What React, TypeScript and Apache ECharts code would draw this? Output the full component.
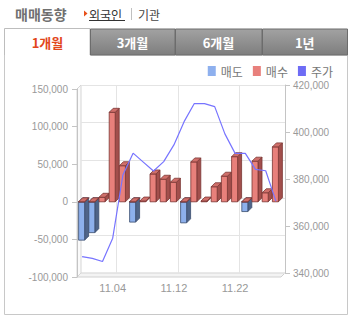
import React, { useEffect, useRef } from "react";
import * as echarts from "echarts";

const dates = ["10.30","10.31","11.01","11.04","11.05","11.06","11.07","11.08","11.11","11.12","11.13","11.14","11.15","11.18","11.20","11.22","11.25","11.26","11.27","11.28"];
const sellValues = [-51000,-41000,0,0,0,-27000,0,0,0,0,-28000,0,0,0,0,0,-13000,0,0,0];
const buyValues = [0,0,6000,119000,48000,0,1000,37000,30000,26000,0,53000,1000,20000,34000,60000,0,54000,12000,73000];
const priceValues = [347000,346200,344900,354800,381700,391000,387200,383400,387400,394500,404400,412100,412100,410800,399200,390900,390900,384100,383500,370600];
const labelIndices = [3, 9, 15];
const tabLabels = ["1개월","3개월","6개월","1년"];
const legendNames = ["매도","매수","주가"];

const KR = "'Noto Sans CJK KR', sans-serif";
const NUM = "'Liberation Sans', Arial, sans-serif";

const redC = { front: "#e8807b", side: "#a24f4c", top: "#cf6f6a", edge: "#7a3532" };
const blueC = { front: "#8db0ec", side: "#4f6488", top: "#7596cf", edge: "#3a4d6e" };
const lineColor = "#7774ff";

function bar3D(c: any, skipZero: boolean) {
  return (params: any, api: any) => {
    const idx = api.value(0);
    const v = api.value(1);
    if (skipZero && v === 0) return null;
    const p0 = api.coord([idx, 0]);
    const p1 = api.coord([idx, v]);
    const w = 6, d = 4;
    const x0 = p0[0] - 3.5;
    const yt = Math.min(p0[1], p1[1]);
    const yb = Math.max(p0[1], p1[1]);
    const st = (fill: string) => ({ fill, stroke: c.edge, lineWidth: 0.8 });
    return {
      type: "group",
      children: [
        { type: "polygon", shape: { points: [[x0 + w, yt], [x0 + w + d, yt - d], [x0 + w + d, yb - d], [x0 + w, yb]] }, style: st(c.side) },
        { type: "rect", shape: { x: x0, y: yt, width: w, height: yb - yt }, style: st(c.front) },
        { type: "polygon", shape: { points: [[x0, yt], [x0 + d, yt - d], [x0 + w + d, yt - d], [x0 + w, yt]] }, style: st(c.top) },
      ],
    };
  };
}

const fmt = (v: number) => v.toLocaleString("en-US");

function txt(text: string, x: number, y: number, font: string, fill: string, align = "left") {
  return {
    type: "text", x, y, z: 10,
    style: { text, font, fill, align, verticalAlign: "middle", textAlign: align, textVerticalAlign: "middle" },
  };
}

export default function App() {
  const ref = useRef<HTMLDivElement>(null);
  useEffect(() => {
    if (!ref.current) return;
    const chart = echarts.init(ref.current, undefined, { renderer: "svg" });
    const grayGrad = () => new echarts.graphic.LinearGradient(0, 0, 0, 1, [
      { offset: 0, color: "#a2a2a2" }, { offset: 1, color: "#7e7e7e" },
    ]);
    const tabX = [4.5, 90, 175, 262, 347.5];
    const graphic: any[] = [
      { type: "polyline", z: 1, shape: { points: [[90, 55], [347.5, 55], [347.5, 314.5], [4.5, 314.5], [4.5, 55]] }, style: { stroke: "#c8c8c8", fill: "none", lineWidth: 1 } },
      { type: "polyline", z: 1, shape: { points: [[4.5, 55], [4.5, 28.5], [90, 28.5], [90, 55]] }, style: { stroke: "#bdbdbd", fill: "#fff", lineWidth: 1 } },
      txt(tabLabels[0], 47.5, 42.5, `bold 13px ${KR}`, "#e2461b", "center"),
      txt("매매동향", 15, 13.5, `bold 14px ${KR}`, "#707070"),
      { type: "polygon", z: 10, shape: { points: [[84, 10.5], [87.5, 13.5], [84, 16.5]] }, style: { fill: "#e8501a" } },
      txt("외국인", 89, 14, `12px ${KR}`, "#333"),
      { type: "line", z: 10, shape: { x1: 89, y1: 20.5, x2: 125, y2: 20.5 }, style: { stroke: "#333", lineWidth: 1 } },
      { type: "line", z: 10, shape: { x1: 131.5, y1: 8, x2: 131.5, y2: 20 }, style: { stroke: "#c0c0c0", lineWidth: 1 } },
      txt("기관", 138, 14, `12px ${KR}`, "#444"),
      { type: "polygon", z: 0, shape: { points: [[77, 277], [81, 273], [285, 273], [281, 277]] }, style: { fill: "#f3f3f3", stroke: "#d0d0d0", lineWidth: 1 } },
      { type: "polygon", z: 0, shape: { points: [[77, 89], [81, 85], [81, 273], [77, 277]] }, style: { fill: "#fafafa", stroke: "#d6d6d6", lineWidth: 1 } },
    ];
    for (let t = 1; t < 4; t++) {
      graphic.push({ type: "rect", z: 1, shape: { x: tabX[t] + 0.5, y: 29, width: tabX[t + 1] - tabX[t] - 0.5, height: 26 }, style: { fill: grayGrad(), stroke: "#6c6c6c", lineWidth: 1 } });
      graphic.push(txt(tabLabels[t], (tabX[t] + tabX[t + 1]) / 2, 42.5, `bold 13px ${KR}`, "#ffffff", "center"));
    }

    const option: any = {
      animation: false,
      graphic,
      legend: {
        top: 60, right: 14, itemWidth: 8, itemHeight: 10, itemGap: 10,
        textStyle: { color: "#777", fontSize: 12, fontFamily: KR },
        data: [
          { name: legendNames[0], icon: "rect", itemStyle: { color: "#8eb0ee" } },
          { name: legendNames[1], icon: "rect", itemStyle: { color: "#e8807c" } },
          { name: legendNames[2], icon: "rect", itemStyle: { color: "#6e6cf5" } },
        ],
      },
      grid: [
        { left: 77, width: 204, top: 89, height: 188 },
        { left: 81, width: 204, top: 85, height: 188 },
        { left: 77, width: 204, top: 85, height: 188 },
      ],
      xAxis: [
        {
          gridIndex: 0, type: "category", data: dates,
          axisLine: { show: false }, axisTick: { show: false }, splitLine: { show: false },
          axisLabel: { interval: (i: number) => labelIndices.includes(i), margin: 5, color: "#999", fontSize: 11, fontFamily: NUM },
        },
        {
          gridIndex: 1, type: "category", data: dates,
          axisLine: { show: false }, axisTick: { show: false, alignWithLabel: true }, axisLabel: { show: false },
          splitLine: { show: true, alignWithLabel: true, interval: (i: number) => labelIndices.includes(i), lineStyle: { color: "#e4e4e4", width: 1 } },
        },
        { gridIndex: 2, type: "category", data: dates, show: false },
      ],
      yAxis: [
        {
          gridIndex: 0, type: "value", min: -100000, max: 150000, interval: 50000,
          axisLine: { show: true, lineStyle: { color: "#c4c4c4" } },
          axisTick: { show: true, length: 5, lineStyle: { color: "#c4c4c4" } },
          splitLine: { show: false },
          axisLabel: { margin: 9, color: "#999", fontSize: 10, fontFamily: NUM, formatter: fmt },
        },
        {
          gridIndex: 1, type: "value", min: -100000, max: 150000, interval: 50000,
          axisLine: { show: false }, axisTick: { show: false }, axisLabel: { show: false },
          splitLine: { show: true, lineStyle: { color: "#e4e4e4", width: 1 } },
        },
        {
          gridIndex: 2, type: "value", position: "right", offset: 4, min: 340000, max: 420000, interval: 20000,
          axisLine: { show: true, lineStyle: { color: "#c4c4c4" } },
          axisTick: { show: true, length: 5, lineStyle: { color: "#c4c4c4" } },
          splitLine: { show: false },
          axisLabel: { margin: 8, color: "#999", fontSize: 10, fontFamily: NUM, formatter: fmt },
        },
      ],
      series: [
        {
          name: legendNames[0], type: "custom", xAxisIndex: 0, yAxisIndex: 0, clip: false,
          itemStyle: { color: "#8eb0ee" }, encode: { x: 0, y: 1 },
          renderItem: bar3D(blueC, true),
          data: sellValues.map((v, i) => [i, v]),
        },
        {
          name: legendNames[1], type: "custom", xAxisIndex: 0, yAxisIndex: 0, clip: false,
          itemStyle: { color: "#e8807c" }, encode: { x: 0, y: 1 },
          renderItem: bar3D(redC, false),
          data: buyValues.map((v, i) => [i, v]),
        },
        {
          name: legendNames[2], type: "line", xAxisIndex: 2, yAxisIndex: 2,
          symbol: "none", data: priceValues, color: "#6e6cf5",
          lineStyle: { color: lineColor, width: 1.2 },
        },
      ],
    };
    chart.setOption(option);
    return () => chart.dispose();
  }, []);
  return (
    <div style={{ position: "fixed", left: 0, top: 0, width: 352, height: 325, background: "#fff" }}>
      <div ref={ref} style={{ width: 352, height: 325 }} />
    </div>
  );
}
